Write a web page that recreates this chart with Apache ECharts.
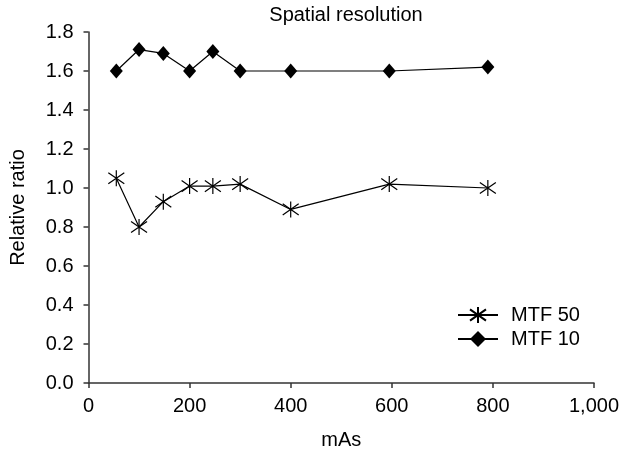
<!DOCTYPE html>
<html>
<head>
<meta charset="utf-8">
<script src="https://cdn.jsdelivr.net/npm/echarts@6/dist/echarts.min.js"></script>
<style>
  html, body { margin: 0; padding: 0; background: #fff; }
  #chart { width: 622px; height: 453px; }
</style>
</head>
<body>
<div id="chart"></div>
<script>
// Tube current-time product (mAs) and relative MTF ratios
const mAs = [55, 100, 148, 200, 246, 300, 400, 595, 790];
const mtf50 = [1.05, 0.80, 0.93, 1.01, 1.01, 1.02, 0.89, 1.02, 1.00];
const mtf10 = [1.60, 1.71, 1.69, 1.60, 1.70, 1.60, 1.60, 1.60, 1.62];
const seriesNames = ['MTF 50', 'MTF 10'];

const FONT = 'Liberation Sans, Arial, sans-serif';
const FS = 20;

// asterisk marker: vertical stroke plus two diagonals
const starPath = 'path://M10,0 L10,20 M3,3 L17,17 M17,3 L3,17';

const pairs = arr => mAs.map((x, i) => [x, arr[i]]);

const chart = echarts.init(document.getElementById('chart'), null, { renderer: 'canvas' });
chart.setOption({
  backgroundColor: '#ffffff',
  animation: false,
  title: {
    text: 'Spatial resolution',
    left: 346,
    top: 5,
    padding: 0,
    textAlign: 'center',
    textStyle: { fontFamily: FONT, fontSize: FS, fontWeight: 'normal', color: '#000' }
  },
  legend: {
    orient: 'vertical',
    left: 457,
    top: 305,
    padding: 0,
    itemWidth: 40,
    itemHeight: 20,
    itemGap: 4,
    textStyle: { fontFamily: FONT, fontSize: FS, lineHeight: 20, color: '#000', padding: [0, 0, 0, 8] },
    data: seriesNames
  },
  grid: { left: 88.5, right: 28, top: 32, bottom: 70, containLabel: false, outerBoundsMode: 'none' },
  xAxis: {
    type: 'value',
    min: 0, max: 1000, interval: 200,
    name: 'mAs',
    nameLocation: 'middle',
    nameGap: 47,
    nameTextStyle: { fontFamily: FONT, fontSize: FS, color: '#000' },
    axisLine: { lineStyle: { color: '#333', width: 1.5 } },
    axisTick: { length: 5, lineStyle: { color: '#333', width: 1.5 } },
    axisLabel: {
      fontFamily: FONT, fontSize: FS, color: '#000', margin: 13,
      formatter: v => v.toLocaleString('en-US')
    },
    splitLine: { show: false }
  },
  yAxis: {
    type: 'value',
    min: 0, max: 1.8, interval: 0.2,
    name: 'Relative ratio',
    nameLocation: 'middle',
    nameGap: 60,
    nameTextStyle: { fontFamily: FONT, fontSize: FS, color: '#000' },
    axisLine: { show: true, lineStyle: { color: '#333', width: 1.5 } },
    axisTick: { show: true, length: 5, lineStyle: { color: '#333', width: 1.5 } },
    axisLabel: {
      fontFamily: FONT, fontSize: FS, color: '#000', margin: 15,
      formatter: v => v.toFixed(1)
    },
    splitLine: { show: false }
  },
  series: [
    {
      name: seriesNames[0],
      type: 'line',
      data: pairs(mtf50),
      symbol: starPath,
      symbolSize: 16,
      itemStyle: { color: 'rgba(0,0,0,0)', borderColor: '#000', borderWidth: 1.2 },
      lineStyle: { color: '#000', width: 1.2 }
    },
    {
      name: seriesNames[1],
      type: 'line',
      data: pairs(mtf10),
      symbol: 'diamond',
      symbolSize: [13, 15],
      itemStyle: { color: '#000', borderWidth: 0 },
      lineStyle: { color: '#000', width: 1.2 }
    }
  ]
});
</script>
</body>
</html>
